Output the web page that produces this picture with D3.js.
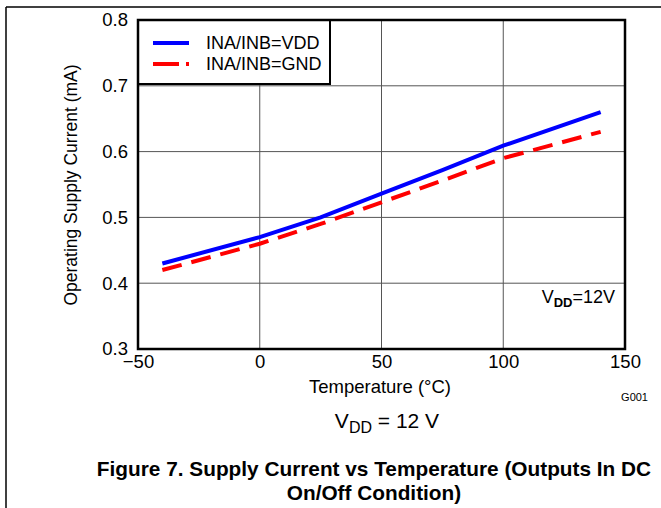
<!DOCTYPE html>
<html><head><meta charset="utf-8">
<script src="https://cdn.jsdelivr.net/npm/d3@7"></script>
<style>body{margin:0;background:#fff;} svg{display:block;font-family:"Liberation Sans",Arial,sans-serif;}</style>
</head><body>
<svg id="c" width="661" height="508"></svg>
<script>
const temps = [-40, 0, 25, 50, 75, 100, 140];
const vddSeries = [0.430, 0.470, 0.500, 0.536, 0.572, 0.609, 0.660];
const gndSeries = [0.420, 0.460, 0.490, 0.523, 0.556, 0.590, 0.630];
const xTicks = [-50, 0, 50, 100, 150];
const yTicks = [0.3, 0.4, 0.5, 0.6, 0.7, 0.8];
const seriesNames = ["INA/INB=VDD", "INA/INB=GND"];

const svg = d3.select("#c");
const L = 138, R = 625, T = 20, B = 349;
const x = d3.scaleLinear().domain([-50, 150]).range([L, R]);
const y = d3.scaleLinear().domain([0.3, 0.8]).range([B, T]);

// outer frame
svg.append("line").attr("x1", 6).attr("x2", 661).attr("y1", 7).attr("y2", 7).attr("stroke", "#000").attr("stroke-width", 1.5);
svg.append("line").attr("x1", 6).attr("x2", 6).attr("y1", 7).attr("y2", 508).attr("stroke", "#000").attr("stroke-width", 1.5);

// grid
const g = svg.append("g");
g.selectAll(".vx").data(xTicks.slice(1, -1)).join("line")
  .attr("x1", d => x(d)).attr("x2", d => x(d)).attr("y1", T).attr("y2", B)
  .attr("stroke", "#555").attr("stroke-width", 1);
g.selectAll(".hy").data(yTicks.slice(1, -1)).join("line")
  .attr("y1", d => y(d)).attr("y2", d => y(d)).attr("x1", L).attr("x2", R)
  .attr("stroke", "#555").attr("stroke-width", 1);

// axes labels via d3 axes
const xAxis = svg.append("g").attr("transform", `translate(0,${B})`)
  .call(d3.axisBottom(x).tickValues(xTicks).tickSize(0).tickPadding(6).tickFormat(d => d < 0 ? "\u2212" + Math.abs(d) : d));
const yAxis = svg.append("g").attr("transform", `translate(${L},0)`)
  .call(d3.axisLeft(y).tickValues(yTicks).tickSize(0).tickPadding(10).tickFormat(d3.format(".1f")));
[xAxis, yAxis].forEach(a => {
  a.select(".domain").remove();
  a.selectAll("text").attr("font-size", 18.5).attr("fill", "#000").attr("font-family", "Liberation Sans, Arial, sans-serif");
});

// lines
const line = d3.line().x((d, i) => x(temps[i])).y(d => y(d));
svg.append("path").attr("d", line(vddSeries)).attr("fill", "none").attr("stroke", "#0000ff").attr("stroke-width", 4);
svg.append("path").attr("d", line(gndSeries)).attr("fill", "none").attr("stroke", "#ff0000").attr("stroke-width", 4)
  .attr("stroke-dasharray", "20,10");

// legend box
svg.append("rect").attr("x", L).attr("y", T).attr("width", 192).attr("height", 64)
  .attr("fill", "#fff").attr("stroke", "#000").attr("stroke-width", 2);
svg.append("line").attr("x1", 153).attr("x2", 189).attr("y1", 43).attr("y2", 43).attr("stroke", "#0000ff").attr("stroke-width", 4);
svg.append("line").attr("x1", 153).attr("x2", 179).attr("y1", 64).attr("y2", 64).attr("stroke", "#ff0000").attr("stroke-width", 4);
svg.append("line").attr("x1", 186).attr("x2", 189).attr("y1", 64).attr("y2", 64).attr("stroke", "#ff0000").attr("stroke-width", 4);
svg.selectAll(".lt").data(seriesNames).join("text")
  .attr("x", 206).attr("y", (d, i) => 49 + i * 21).attr("font-size", 18).text(d => d);

// plot border
svg.append("rect").attr("x", L).attr("y", T).attr("width", R - L).attr("height", B - T)
  .attr("fill", "none").attr("stroke", "#000").attr("stroke-width", 2.5);

// in-plot annotation
const ann = svg.append("text").attr("x", 615).attr("y", 303).attr("text-anchor", "end").attr("font-size", 18);
ann.append("tspan").text("V");
ann.append("tspan").attr("font-size", 13).attr("font-weight", "bold").attr("dy", 4).text("DD");
ann.append("tspan").attr("dy", -4).text("=12V");

// axis titles
svg.append("text").attr("x", 380).attr("y", 393).attr("text-anchor", "middle").attr("font-size", 18.5).text("Temperature (°C)");
svg.append("text").attr("transform", "translate(77,185) rotate(-90)").attr("text-anchor", "middle").attr("font-size", 17.5).text("Operating Supply Current (mA)");
svg.append("text").attr("x", 648).attr("y", 401).attr("text-anchor", "end").attr("font-size", 11).text("G001");

// condition caption
const cap = svg.append("text").attr("x", 387).attr("y", 428).attr("text-anchor", "middle").attr("font-size", 21);
cap.append("tspan").text("V");
cap.append("tspan").attr("font-size", 16).attr("dy", 5).text("DD");
cap.append("tspan").attr("dy", -5).text(" = 12 V");

// figure title
svg.append("text").attr("x", 374).attr("y", 476).attr("text-anchor", "middle").attr("font-size", 20.8).attr("font-weight", "bold")
  .text("Figure 7. Supply Current vs Temperature (Outputs In DC");
svg.append("text").attr("x", 374).attr("y", 500).attr("text-anchor", "middle").attr("font-size", 20.8).attr("font-weight", "bold")
  .text("On/Off Condition)");
</script>
</body></html>
